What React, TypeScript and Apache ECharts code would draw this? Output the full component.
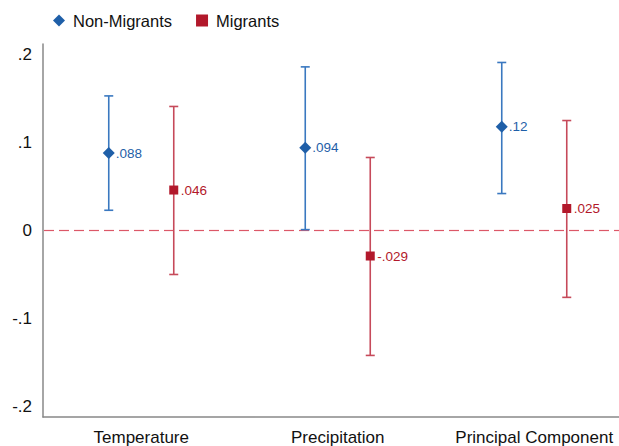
import React, { useEffect, useRef } from "react";
import * as echarts from "echarts";

const categories = ["Temperature", "Precipitation", "Principal Component"];
const nonMigrantEst = [0.088, 0.094, 0.118];
const nonMigrantLow = [0.023, 0.001, 0.042];
const nonMigrantHigh = [0.153, 0.186, 0.191];
const nonMigrantLabels = [".088", ".094", ".12"];
const migrantEst = [0.046, -0.029, 0.025];
const migrantLow = [-0.05, -0.142, -0.076];
const migrantHigh = [0.141, 0.083, 0.125];
const migrantLabels = [".046", "-.029", ".025"];
const yTickValues = [-0.2, -0.1, 0, 0.1, 0.2];
const yTickLabels = ["-.2", "-.1", "0", ".1", ".2"];

const FONT = "Arial, 'Liberation Sans', sans-serif";
const BLUE = "#1f5fa8";
const BLUE_LINE = "#3a78c0";
const RED = "#b2182b";
const RED_LINE = "#c64a5a";
const ZERO_LINE = "#dc5868";

function makeRender(offset: number, shape: "diamond" | "square", labels: string[], color: string, lineColor: string, drawZero: boolean) {
  return (params: any, api: any) => {
    const x = api.value(0);
    const pE = api.coord([x, api.value(1)]);
    const pL = api.coord([x, api.value(2)]);
    const pH = api.coord([x, api.value(3)]);
    const cx = pE[0] + offset;
    const cy = pE[1];
    const lineStyle = { stroke: lineColor, lineWidth: 1.6 };
    const children: any[] = [];
    if (drawZero && params.dataIndex === 0) {
      const cs = params.coordSys;
      const z = api.coord([0, 0])[1];
      const end = cs.x + cs.width;
      for (let s = cs.x + 1; s < end; s += 15) {
        children.push({
          type: "line",
          z2: 0,
          shape: { x1: s, y1: z, x2: Math.min(s + 10, end), y2: z },
          style: { stroke: ZERO_LINE, lineWidth: 1.2 },
        });
      }
    }
    children.push(
      { type: "line", z2: 1, shape: { x1: cx, y1: pH[1], x2: cx, y2: pL[1] }, style: lineStyle },
      { type: "line", z2: 1, shape: { x1: cx - 4.5, y1: pH[1], x2: cx + 4.5, y2: pH[1] }, style: lineStyle },
      { type: "line", z2: 1, shape: { x1: cx - 4.5, y1: pL[1], x2: cx + 4.5, y2: pL[1] }, style: lineStyle }
    );
    if (shape === "diamond") {
      children.push({
        type: "polygon",
        z2: 2,
        shape: { points: [[cx, cy - 6], [cx + 6, cy], [cx, cy + 6], [cx - 6, cy]] },
        style: { fill: color },
      });
    } else {
      children.push({ type: "rect", z2: 2, shape: { x: cx - 4.5, y: cy - 4.5, width: 9, height: 9 }, style: { fill: color } });
    }
    children.push({
      type: "text",
      z2: 2,
      x: cx + 7,
      y: cy,
      style: {
        text: labels[params.dataIndex],
        fill: color,
        font: `13.5px ${FONT}`,
        textAlign: "left",
        textVerticalAlign: "middle",
      },
    });
    return { type: "group", children };
  };
}

export default function App() {
  const ref = useRef<HTMLDivElement>(null);
  useEffect(() => {
    if (!ref.current) return;
    const chart = echarts.init(ref.current, undefined, { renderer: "svg" });
    const nonData = categories.map((_, i) => [i, nonMigrantEst[i], nonMigrantLow[i], nonMigrantHigh[i]]);
    const migData = categories.map((_, i) => [i, migrantEst[i], migrantLow[i], migrantHigh[i]]);
    chart.setOption({
      animation: false,
      backgroundColor: "#ffffff",
      textStyle: { fontFamily: FONT },
      legend: {
        left: 53,
        top: 12,
        padding: 0,
        itemWidth: 12,
        itemHeight: 12,
        itemGap: 24,
        textStyle: { fontSize: 16.5, color: "#111", fontFamily: FONT, padding: [0, 0, 0, 3] },
        data: [
          { name: "Non-Migrants", icon: "diamond" },
          { name: "Migrants", icon: "rect" },
        ],
      },
      grid: { left: 43, width: 589.5, top: 44, height: 373, containLabel: false, outerBoundsMode: "none" },
      xAxis: {
        type: "category",
        data: categories,
        boundaryGap: true,
        axisLine: { onZero: false, lineStyle: { color: "#888", width: 1.5 } },
        axisTick: { show: false },
        axisLabel: { fontSize: 17, color: "#111", margin: 12, fontFamily: FONT, interval: 0 },
        splitLine: { show: false },
      },
      yAxis: {
        type: "value",
        min: -0.212,
        max: 0.212,
        axisLine: { show: true, onZero: false, lineStyle: { color: "#888", width: 1.5 } },
        axisTick: { show: false },
        splitLine: { show: false },
        axisLabel: {
          customValues: yTickValues,
          fontSize: 17,
          color: "#111",
          margin: 11,
          fontFamily: FONT,
          formatter: (v: number) => {
            const idx = yTickValues.findIndex((t) => Math.abs(t - v) < 1e-9);
            return idx >= 0 ? yTickLabels[idx] : "";
          },
        },
      },
      series: [
        {
          name: "Non-Migrants",
          type: "custom",
          itemStyle: { color: BLUE },
          renderItem: makeRender(-32.5, "diamond", nonMigrantLabels, BLUE, BLUE_LINE, true),
          data: nonData,
          encode: { x: 0, y: 1 },
          clip: false,
          z: 3,
        },
        {
          name: "Migrants",
          type: "custom",
          itemStyle: { color: RED },
          renderItem: makeRender(32.5, "square", migrantLabels, RED, RED_LINE, false),
          data: migData,
          encode: { x: 0, y: 1 },
          clip: false,
          z: 4,
        },
      ],
    });
    return () => chart.dispose();
  }, []);
  return <div ref={ref} style={{ position: "absolute", left: 0, top: 0, width: 619, height: 446 }} />;
}
